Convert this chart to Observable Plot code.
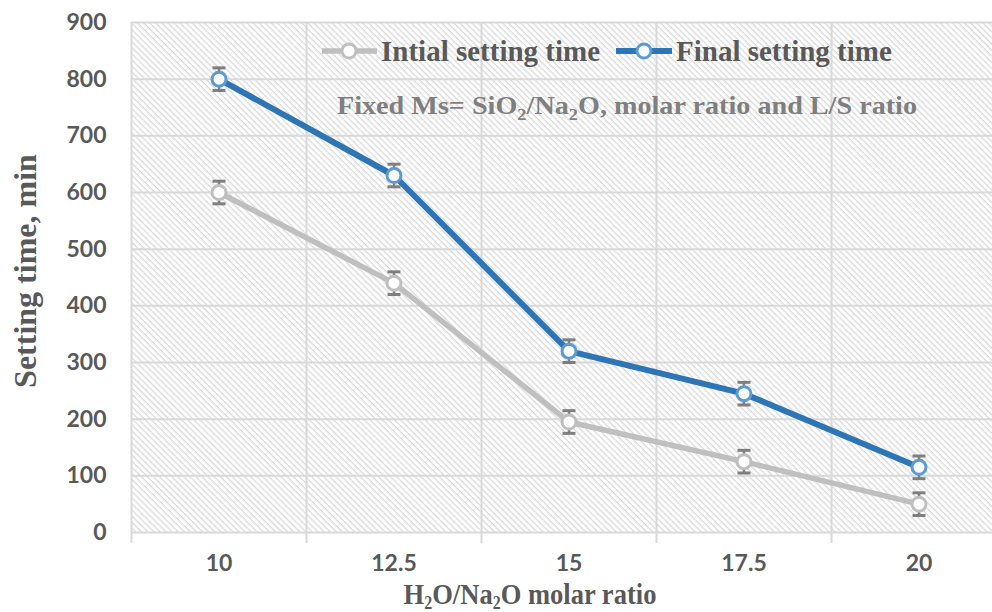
<!DOCTYPE html>
<html>
<head>
<meta charset="utf-8">
<script src="https://cdn.jsdelivr.net/npm/d3@7"></script>
<script src="https://cdn.jsdelivr.net/npm/@observablehq/plot@0.6"></script>
<style>
  html, body { margin: 0; padding: 0; background: #fff; overflow: hidden; }
  #chart svg { display: block; overflow: hidden; }
</style>
</head>
<body>
<div id="chart"></div>
<script>
// ---- data ----
const categories = [10, 12.5, 15, 17.5, 20];
const xTickLabels = ["10", "12.5", "15", "17.5", "20"];
const initialSetting = [600, 440, 195, 125, 50];
const finalSetting = [800, 630, 320, 245, 115];
const errInitial = [20, 20, 20, 20, 20];
const errFinal = [20, 20, 20, 20, 20];
const yTicks = [0, 100, 200, 300, 400, 500, 600, 700, 800, 900];
const seriesNames = ["Intial setting time", "Final setting time"];

// ---- derived tables ----
const step = categories[1] - categories[0];
const boundaries = [categories[0] - step / 2, ...categories.map(c => c + step / 2)];
const rows = [];
categories.forEach((c, i) => {
  rows.push({x: c, y: initialSetting[i], e: errInitial[i], s: seriesNames[0]});
  rows.push({x: c, y: finalSetting[i], e: errFinal[i], s: seriesNames[1]});
});
const initRows = rows.filter(r => r.s === seriesNames[0]);
const finRows = rows.filter(r => r.s === seriesNames[1]);

const GREY = "#bfbfbf", BLUE = "#2e75b6", BLUE_M = "#5b9bd5", ERR = "#7f7f7f", GRID = "#d9d9d9", TXT = "#595959";
const capSymbol = { draw(ctx) { ctx.moveTo(-6.5, 0); ctx.lineTo(6.5, 0); } };

const W = 992, H = 612, ML = 131, MT = 22, MB = 80;
const plotRight = ML + (boundaries.length - 1) * 175;

const chart = Plot.plot({
  width: W, height: H,
  marginLeft: ML, marginTop: MT, marginBottom: MB, marginRight: 0,
  style: {fontFamily: "Lato, 'Liberation Sans', sans-serif", background: "#fff", overflow: "hidden"},
  x: {domain: [boundaries[0], boundaries[boundaries.length - 1]], range: [ML, plotRight]},
  y: {domain: [0, 900]},
  marks: [
    Plot.frame({fill: "url(#hatch)", stroke: "none"}),
    Plot.ruleY(yTicks, {stroke: GRID, strokeWidth: 2}),
    Plot.ruleX(boundaries, {stroke: GRID, strokeWidth: 2}),
    Plot.axisX({ticks: boundaries, tickSize: 11, tickFormat: () => "", stroke: GRID, strokeWidth: 2, label: null}),
    Plot.axisX({ticks: categories, tickSize: 0, tickPadding: 22, tickFormat: d => xTickLabels[categories.indexOf(d)],
      fontSize: 23, fontWeight: "bold", fill: TXT, label: null}),
    Plot.axisY({ticks: yTicks, tickSize: 0, tickPadding: 25, fontSize: 23, fontWeight: "bold", fill: TXT, label: null}),
    Plot.line(initRows, {x: "x", y: "y", stroke: GREY, strokeWidth: 5.5}),
    Plot.line(finRows, {x: "x", y: "y", stroke: BLUE, strokeWidth: 6}),
    Plot.ruleX(rows, {x: "x", y1: d => d.y - d.e, y2: d => d.y + d.e, stroke: ERR, strokeWidth: 2.5}),
    Plot.dot(rows, {x: "x", y: d => d.y - d.e, symbol: capSymbol, stroke: ERR, strokeWidth: 3, r: 5}),
    Plot.dot(rows, {x: "x", y: d => d.y + d.e, symbol: capSymbol, stroke: ERR, strokeWidth: 3, r: 5}),
    Plot.dot(initRows, {x: "x", y: "y", r: 7, fill: "#fff", stroke: GREY, strokeWidth: 3}),
    Plot.dot(finRows, {x: "x", y: "y", r: 7, fill: "#fff", stroke: BLUE_M, strokeWidth: 3})
  ]
});

document.getElementById("chart").appendChild(chart);

const svg = d3.select(chart);
// hatch pattern
const defs = svg.insert("defs", ":first-child");
const pat = defs.append("pattern").attr("id", "hatch")
  .attr("patternUnits", "userSpaceOnUse").attr("width", 10).attr("height", 4.3)
  .attr("patternTransform", "rotate(45)");
pat.append("rect").attr("width", 10).attr("height", 4.3).attr("fill", "#fff");
pat.append("rect").attr("y", 0).attr("width", 10).attr("height", 1.3).attr("fill", "#dadada");

const serif = "'Liberation Serif', 'Times New Roman', serif";

// legend
const legend = svg.append("g").attr("font-family", serif).attr("font-weight", "bold").attr("font-size", 29)
  .attr("fill", TXT).attr("text-anchor", "start");
const legItems = [
  {x0: 322, x1: 377, cx: 349, tx: 381, stroke: GREY, mstroke: GREY, w: 5.5, label: seriesNames[0]},
  {x0: 616, x1: 672, cx: 644, tx: 676, stroke: BLUE, mstroke: BLUE_M, w: 6, label: seriesNames[1]}
];
legItems.forEach(it => {
  legend.append("line").attr("x1", it.x0).attr("x2", it.x1).attr("y1", 51).attr("y2", 51)
    .attr("stroke", it.stroke).attr("stroke-width", it.w);
  legend.append("circle").attr("cx", it.cx).attr("cy", 51).attr("r", 7)
    .attr("fill", "#fff").attr("stroke", it.mstroke).attr("stroke-width", 3);
  legend.append("text").attr("x", it.tx).attr("y", 61).text(it.label);
});

// annotation (slightly stretched like the reference)
const ann = svg.append("text").attr("transform", "translate(627,114) scale(1.15,1)").attr("text-anchor", "middle")
  .attr("font-family", serif).attr("font-weight", "bold").attr("font-size", 24.5).attr("fill", "#7f7f7f");
ann.append("tspan").text("Fixed Ms= SiO");
ann.append("tspan").attr("dy", 6).attr("font-size", 16).text("2");
ann.append("tspan").attr("dy", -6).text("/Na");
ann.append("tspan").attr("dy", 6).attr("font-size", 16).text("2");
ann.append("tspan").attr("dy", -6).text("O, molar ratio and L/S ratio");

// x title (slightly condensed like the reference)
const xt = svg.append("text").attr("transform", "translate(530,604) scale(0.885,1)").attr("text-anchor", "middle")
  .attr("font-family", serif).attr("font-weight", "bold").attr("font-size", 30).attr("fill", TXT);
xt.append("tspan").text("H");
xt.append("tspan").attr("dy", 5).attr("font-size", 18).text("2");
xt.append("tspan").attr("dy", -5).text("O/Na");
xt.append("tspan").attr("dy", 5).attr("font-size", 18).text("2");
xt.append("tspan").attr("dy", -5).text("O molar ratio");

// y title
svg.append("text").attr("transform", "translate(36,271) rotate(-90)").attr("text-anchor", "middle")
  .attr("font-family", serif).attr("font-weight", "bold").attr("font-size", 32).attr("fill", TXT)
  .text("Setting time, min");
</script>
</body>
</html>
